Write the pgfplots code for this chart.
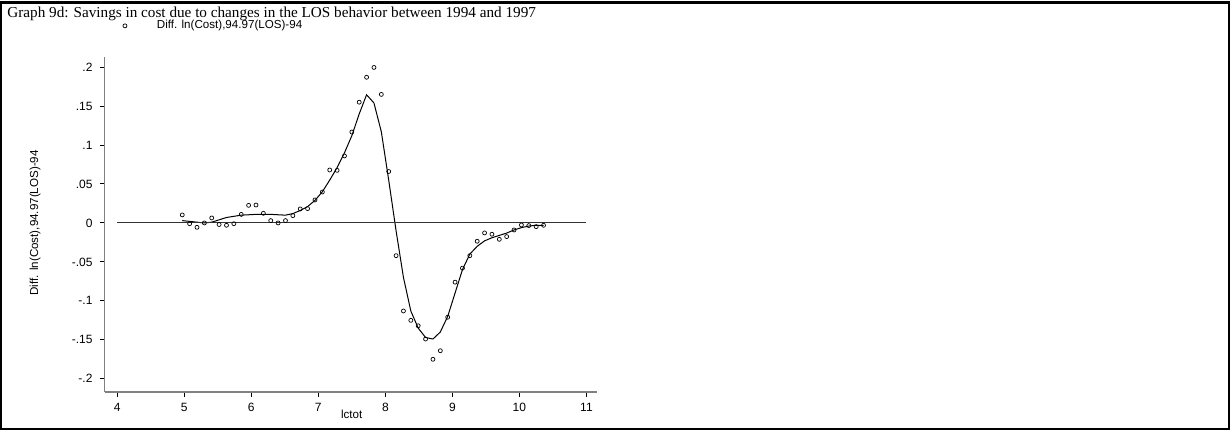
\documentclass[border=0pt]{standalone}
\usepackage{pgfplots}
\pgfplotsset{compat=1.18}
\usepackage{fontspec}
\setmainfont{Liberation Sans}
\newfontfamily\seriffont{Liberation Serif}
\pgfplotstableread{
x y
4.97 0.0103
5.08 -0.001
5.19 -0.0056
5.30 0.000
5.41 0.0064
5.52 -0.002
5.63 -0.003
5.74 -0.001
5.85 0.011
5.96 0.0226
6.07 0.023
6.18 0.0124
6.29 0.003
6.40 0.000
6.51 0.003
6.62 0.0094
6.73 0.018
6.84 0.0184
6.95 0.0295
7.06 0.0397
7.17 0.068
7.28 0.0675
7.39 0.086
7.50 0.1167
7.61 0.155
7.72 0.187
7.83 0.1996
7.94 0.165
8.05 0.066
8.16 -0.042
8.27 -0.113
8.38 -0.125
8.49 -0.132
8.60 -0.149
8.71 -0.175
8.82 -0.164
8.93 -0.121
9.04 -0.076
9.15 -0.058
9.26 -0.042
9.37 -0.0235
9.48 -0.0128
9.59 -0.0145
9.70 -0.021
9.81 -0.0175
9.92 -0.009
10.03 -0.0026
10.14 -0.0034
10.25 -0.0047
10.36 -0.003
}\pts
\pgfplotstableread{
x y
4.97 0.003
5.19 0.001
5.30 0.000
5.41 0.001
5.63 0.007
5.85 0.010
6.07 0.011
6.29 0.011
6.51 0.010
6.62 0.012
6.73 0.016
6.84 0.021
6.95 0.029
7.06 0.040
7.17 0.055
7.28 0.071
7.39 0.090
7.50 0.112
7.61 0.140
7.72 0.1645
7.83 0.154
7.94 0.117
8.05 0.055
8.16 -0.010
8.27 -0.070
8.38 -0.113
8.49 -0.135
8.60 -0.147
8.71 -0.149
8.82 -0.140
8.93 -0.120
9.04 -0.090
9.15 -0.060
9.26 -0.040
9.37 -0.030
9.48 -0.023
9.59 -0.019
9.70 -0.016
9.81 -0.013
9.92 -0.009
10.03 -0.006
10.14 -0.004
10.25 -0.003
10.36 -0.003
}\fit
\begin{document}
\begin{tikzpicture}
\useasboundingbox (0,0) rectangle (615pt,215pt);
\draw[line width=1pt] (0.5pt,0.5pt) rectangle (614.5pt,214pt);
\draw[line width=1.2pt] (0,213.8pt) -- (615pt,213.8pt);
\node[anchor=base west,font=\seriffont\fontsize{7.6}{9}\selectfont,inner sep=0pt] at (3.5pt,206.5pt) {Graph 9d: Savings in cost due to changes in the LOS behavior between 1994 and 1997};
\begin{axis}[at={(52.25pt,19pt)},anchor=south west,
  scale only axis,width=246pt,height=167.5pt,
  xmin=3.81,xmax=11.15,ymin=-0.217,ymax=0.213,
  axis lines*=left, axis line style={-,gray,line width=0.8pt},
  tick align=outside, major tick length=2.5pt, tick style={black,line width=0.5pt},
  xtick={4,5,...,11},
  ytick={-0.2,-0.15,-0.1,-0.05,0,0.05,0.1,0.15,0.2},
  yticklabels={-.2,-.15,-.1,-.05,0,.05,.1,.15,.2},
  /pgf/number format/assume math mode=true,
  tick label style={font=\fontsize{6}{7}\selectfont},
  xticklabel style={yshift=0.5pt},
  label style={font=\fontsize{5.8}{7}\selectfont},
  xlabel={lctot},
  xlabel style={at={(axis description cs:0.5025,-0.068)},anchor=center},
  ylabel={Diff. ln(Cost),94.97(LOS)-94},
  ylabel style={at={(axis description cs:-0.141,0.505)},anchor=center},
  legend style={at={(axis description cs:0.036,1.093)},anchor=west,draw=none,fill=none,
    font=\fontsize{5.8}{7}\selectfont,inner sep=0pt},
  legend image code/.code={\path[draw=none] (0pt,0pt) -- (14pt,0pt); \draw[black,line width=0.35pt] (0pt,0pt) circle (1pt);},
]
\addplot[only marks,mark=o,mark size=1pt,mark options={line width=0.35pt,black}] table {\pts};
\addlegendentry{Diff. ln(Cost),94.97(LOS)-94}
\addplot[black,line width=0.5pt,forget plot] table {\fit};
\addplot[black!80,line width=0.45pt,forget plot] coordinates {(4,0) (11,0)};
\end{axis}
\end{tikzpicture}
\end{document}
